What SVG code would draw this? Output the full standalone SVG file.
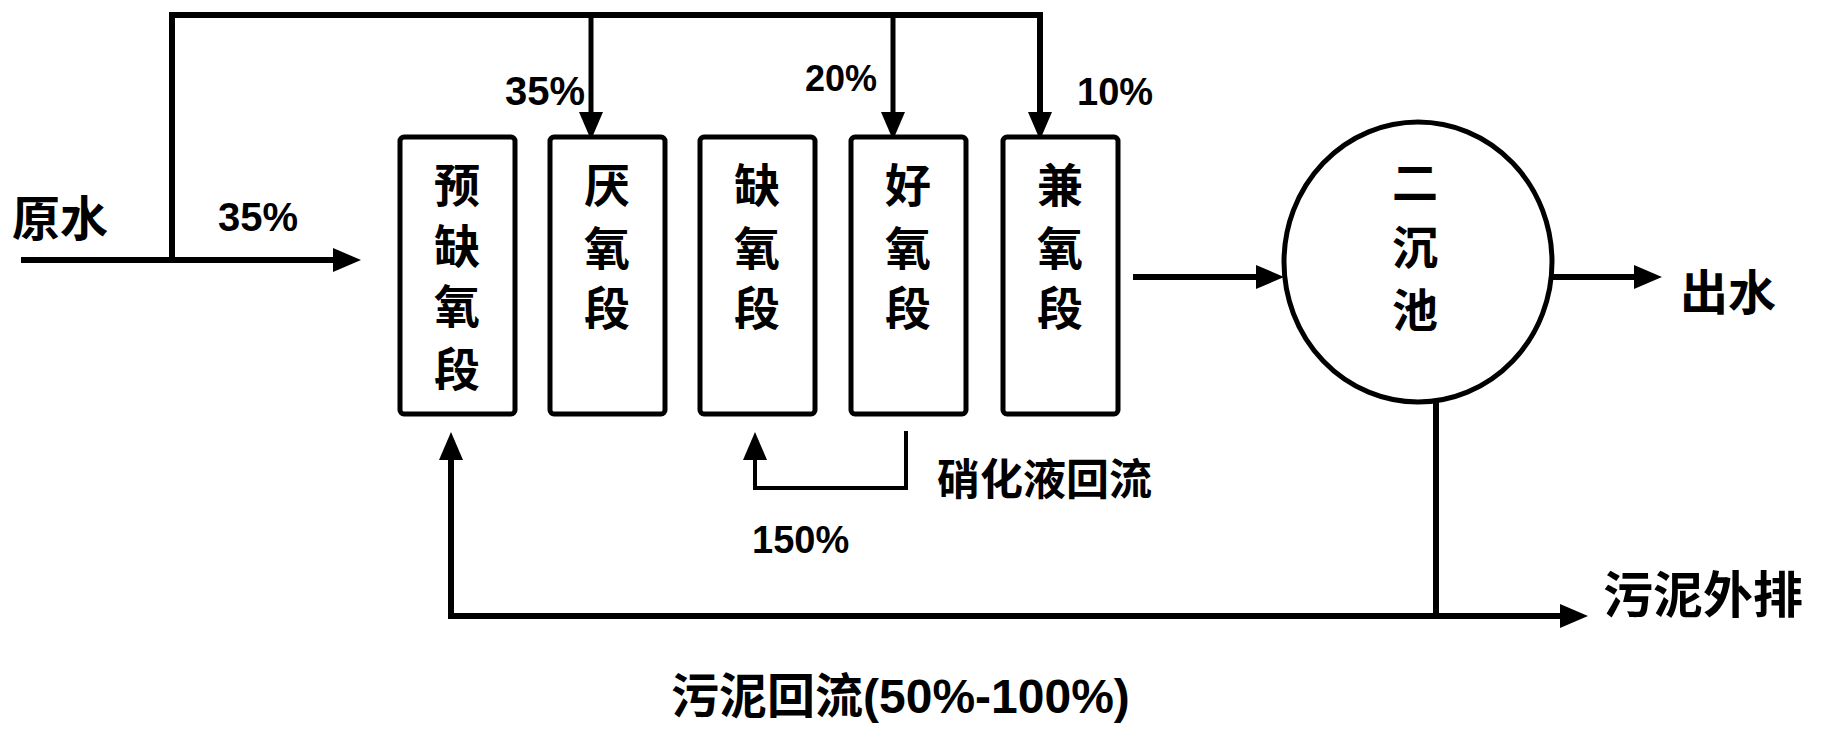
<svg xmlns="http://www.w3.org/2000/svg" width="1827" height="738" viewBox="0 0 1827 738">
<style>
text{font-family:"Liberation Sans","Noto Sans CJK SC",sans-serif;fill:#000}
.box{fill:#fff;stroke:#000;stroke-width:5}
.bl{font-size:46px;font-weight:bold;text-anchor:middle}
.ln{fill:none;stroke:#000;stroke-width:6;stroke-linejoin:miter}
.thin{stroke-width:4}
.pc{font-weight:bold}
</style>
<defs>
<marker id="ah" viewBox="0 0 28 24" refX="1" refY="12" markerWidth="28" markerHeight="24" markerUnits="userSpaceOnUse" orient="auto">
<path d="M0,0 L28,12 L0,24 Z" fill="#000"/>
</marker>
</defs>
<rect width="1827" height="738" fill="#fff"/>
<g id="connectors">
<path class="ln" d="M21,260 H334" marker-end="url(#ah)"/>
<path class="ln" d="M172,260 V15 H1040 V113" marker-end="url(#ah)"/>
<path class="ln" style="stroke-width:5" d="M591,15 V113" marker-end="url(#ah)"/>
<path class="ln" style="stroke-width:5" d="M893,15 V113" marker-end="url(#ah)"/>
<path class="ln" d="M1133,277 H1257" marker-end="url(#ah)"/>
<path class="ln" d="M1553,277 H1635" marker-end="url(#ah)"/>
<path class="ln" d="M1436,402 V616 H1561" marker-end="url(#ah)"/>
<path class="ln" d="M1436,616 H451 V459" marker-end="url(#ah)"/>
<path class="ln thin" d="M906,431 V488 H755 V459" marker-end="url(#ah)"/>
</g>
<g id="n1"><rect class="box" x="400" y="137" width="115" height="277" rx="4"/>
<text class="bl" x="457" y="202">预</text><text class="bl" x="457" y="263">缺</text><text class="bl" x="457" y="323">氧</text><text class="bl" x="457" y="386">段</text></g>
<g id="n2"><rect class="box" x="550" y="137" width="115" height="277" rx="4"/>
<text class="bl" x="607" y="202">厌</text><text class="bl" x="607" y="265">氧</text><text class="bl" x="607" y="325">段</text></g>
<g id="n3"><rect class="box" x="700" y="137" width="115" height="277" rx="4"/>
<text class="bl" x="757" y="202">缺</text><text class="bl" x="757" y="265">氧</text><text class="bl" x="757" y="325">段</text></g>
<g id="n4"><rect class="box" x="851" y="137" width="115" height="277" rx="4"/>
<text class="bl" x="908" y="202">好</text><text class="bl" x="908" y="265">氧</text><text class="bl" x="908" y="325">段</text></g>
<g id="n5"><rect class="box" x="1003" y="137" width="115" height="277" rx="4"/>
<text class="bl" x="1060" y="202">兼</text><text class="bl" x="1060" y="265">氧</text><text class="bl" x="1060" y="325">段</text></g>
<g id="n6"><ellipse cx="1418" cy="262" rx="134" ry="140" fill="#fff" stroke="#000" stroke-width="5"/>
<text class="bl" x="1415" y="199">二</text><text class="bl" x="1415" y="264">沉</text><text class="bl" x="1415" y="327">池</text></g>
<g id="labels">
<text x="12" y="236" font-size="48" font-weight="bold">原水</text>
<text class="pc" x="218" y="231" font-size="40">35%</text>
<text class="pc" x="505" y="105" font-size="40">35%</text>
<text class="pc" x="805" y="91" font-size="36">20%</text>
<text class="pc" x="1077" y="105" font-size="38">10%</text>
<text x="1680" y="310" font-size="48" font-weight="bold">出水</text>
<text x="1603" y="613" font-size="50" font-weight="bold">污泥外排</text>
<text x="937" y="495" font-size="43" font-weight="bold">硝化液回流</text>
<text class="pc" x="752" y="553" font-size="38">150%</text>
<text x="671" y="713" font-size="48" font-weight="bold">污泥回流(50%-100%)</text>
</g>
</svg>
